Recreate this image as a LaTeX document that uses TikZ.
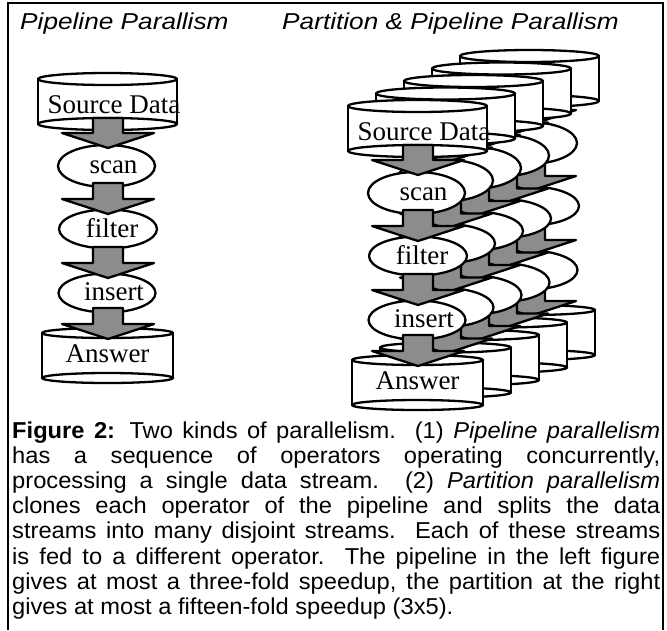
\documentclass[tikz,border=0pt]{standalone}
\usepackage{fontspec}
\setmainfont{Liberation Serif}
\newfontfamily\capfont[FakeStretch=1.03]{Liberation Sans}
\newfontfamily\headfont[FakeStretch=1.14]{Liberation Sans}
\definecolor{flowgray}{gray}{0.55}

\tikzset{
  outline/.style={line width=2.3pt, line join=round},
  disk/.style={outline, fill=white},
  flow/.style={outline, fill=flowgray},
  oplabel/.style={inner sep=0pt, anchor=base, font=\fontsize{27}{27}\selectfont},
  title/.style={inner sep=0pt, anchor=base west, font=\headfont\itshape\fontsize{23}{25}\selectfont},
}

% block arrow: centre x, shaft top, head base
\newcommand{\flowarrow}[3]{%
  \draw[flow] ({#1-15},#2) -- ({#1+15},#2) -- ({#1+15},#3) -- ({#1+46},#3)
    -- (#1,{#3+15}) -- ({#1-46},#3) -- ({#1-15},#3) -- cycle;}

% upright cylinder: centre x, top y, bottom y, x radius, y radius
\newcommand{\drum}[5]{%
  \fill[white] ({#1-#4},#2) rectangle ({#1+#4},#3);
  \draw[disk] (#1,#3) ellipse [x radius=#4pt, y radius=#5pt];
  \draw[outline] ({#1-#4},#2) -- ({#1-#4},#3) ({#1+#4},#2) -- ({#1+#4},#3);
  \draw[disk] (#1,#2) ellipse [x radius=#4pt, y radius=#5pt];}

% one pipeline: source, three operators, answer, and the flows between them
\newcommand{\pipeline}[2]{%
  \begin{scope}[shift={(#1,#2)}]
    \drum{107.5}{79}{124}{69.5}{6}
    \draw[disk] (106.5,166) ellipse [x radius=48.5pt, y radius=21pt];
    \draw[disk] (108,229) ellipse [x radius=49pt, y radius=19.5pt];
    \draw[disk] (107,293) ellipse [x radius=48.5pt, y radius=19.5pt];
    \drum{107.5}{333}{378}{65.5}{5}
    \flowarrow{108}{118}{133}
    \flowarrow{108}{183}{199}
    \flowarrow{108}{247}{263}
    \flowarrow{108}{308}{324}
  \end{scope}}

% the labels of one pipeline
\newcommand{\pipelabels}[3]{%
  \begin{scope}[shift={(#1,#2)}]
    \node[oplabel] (source#3) at (114,113) {Source Data};
    \node[oplabel] (scan#3) at (113.5,173) {scan};
    \node[oplabel] (filter#3) at (112,237) {filter};
    \node[oplabel] (insert#3) at (114,300) {insert};
    \node[oplabel] (answer#3) at (107.5,362) {Answer};
  \end{scope}}

\begin{document}
\begin{tikzpicture}[x=1pt, y=-1pt]
  \useasboundingbox (0,0) rectangle (667,630);
  \fill[white] (0,0) rectangle (667,630);

  % frame
  \draw[line width=2.3pt] (8,630) -- (8,3) -- (663,3) -- (663,630);

  % titles
  \node[title] (lefttitle) at (20,29) {Pipeline Parallism};
  \node[title] (righttitle) at (282,29) {Partition \& Pipeline Parallism};

  % single pipeline
  \pipeline{0}{0}
  \pipelabels{0}{0}{L}

  % five partitioned pipelines, back to front
  \foreach \k in {4,3,2,1} {\pipeline{{310+28*\k}}{{27-12.5*\k}}}
  \pipeline{310}{27}
  \pipelabels{310}{27}{R}

  % caption
  \node[anchor=base west, inner sep=0pt] (caption) at (12,438) {%
    \begin{minipage}[t]{648pt}\capfont\fontsize{23}{25.2}\selectfont
    \makebox[\linewidth][s]{\textbf{Figure 2:} Two kinds of parallelism.\ \ (1) \textit{Pipeline parallelism}}\par
    \makebox[\linewidth][s]{has a sequence of operators operating concurrently,}\par
    \makebox[\linewidth][s]{processing a single data stream.\ \ (2) \textit{Partition parallelism}}\par
    \makebox[\linewidth][s]{clones each operator of the pipeline and splits the data}\par
    \makebox[\linewidth][s]{streams into many disjoint streams.\ \ Each of these streams}\par
    \makebox[\linewidth][s]{is fed to a different operator.\ \ The pipeline in the left figure}\par
    \makebox[\linewidth][s]{gives at most a three-fold speedup, the partition at the right}\par
    \makebox[\linewidth][l]{gives at most a fifteen-fold speedup (3x5).}
    \end{minipage}};
\end{tikzpicture}
\end{document}
